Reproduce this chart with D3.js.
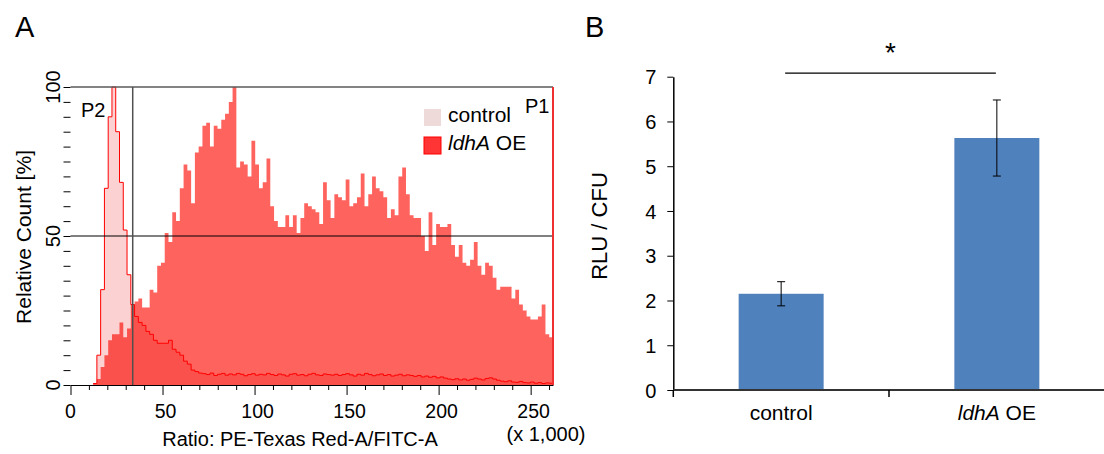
<!DOCTYPE html>
<html><head><meta charset="utf-8">
<script src="https://cdn.jsdelivr.net/npm/d3@7"></script>
<style>
body{margin:0;background:#fff}
svg{display:block}
text{font-family:"Liberation Sans",Arial,Helvetica,sans-serif;fill:#000}
</style>
</head><body>
<svg id="chart" width="1104" height="454"></svg>
<script>
// ---------- Panel A data (128 bins over 0 .. 262.144 x1,000) ----------
const histMax = 262.144;
const controlCounts = [
  0,0,0,0,0,0,0.5,10,32,66,90,100,85,68,52,37,27,23,21,20,18,17,15,14,14,14,15,12,11,10,8,7,5,4.5,4,
  3.8,3.5,4.0,3.2,3.6,3.9,3.3,3.7,3.4,3.9,3.6,3.1,3.5,3.8,3.3,3.6,
  3.4,3.9,3.5,3.2,3.7,3.4,3.0,3.6,3.8,3.3,3.5,3.1,3.6,3.9,3.4,3.2,3.7,3.5,3.3,3.6,
  3.2,3.5,3.8,3.4,3.0,3.6,3.3,3.9,3.5,3.1,3.4,3.7,3.2,3.5,3.0,3.3,3.6,3.1,3.4,3.2,
  2.9,3.2,2.7,3.0,2.6,2.9,2.4,2.7,2.3,2.0,
  1.8,2.1,1.7,2.0,1.6,1.9,2.3,2.0,1.7,2.2,2.4,2.0,1.6,1.3,1.1,1.4,1.0,0.9,1.2,0.8,0.7,1.0,0.6,0.8,0.5,0.7,0.6
];
const ldhaCounts = [
  0,0,0,0,0,0,0.5,2,6,10,15,17,17,21,16,19,27,28,29,26,26,32,31,40,41,51,48,58,55,66,
  74,72,61,78,80,87,88,80,87,86,89,91,95,100,73,75,74,70,82,74,66,68,76,60,55,53,53,57,53,57,
  51,56,61,60,59,58,54,68,62,56,64,63,62,69,60,61,63,71,60,64,70,66,65,63,56,59,57,70,73,64,
  57,56,56,50,45,58,47,54,53,53,54,47,43,47,41,40,42,48,40,37,41,40,36,32,33,33,33,29,32,27,
  25,23,22,22,23,27,17,16
];
const xTickValuesA = [0, 50, 100, 150, 200, 250];
const yTickValuesA = [0, 50, 100];
const gateValue = 33.8;
const seriesNamesA = ["control", "ldhA OE"];

// ---------- Panel B data ----------
const barCategories = ["control", "ldhA OE"];
const barValues = [2.15, 5.63];
const barErrors = [0.27, 0.85];
const yTicksB = [0, 1, 2, 3, 4, 5, 6, 7];
const sigLevel = 7.08;

const svg = d3.select("#chart");

// ================= Panel A =================
const xA = d3.scaleLinear().domain([0, histMax]).range([70.5, 553]);
const yA = d3.scaleLinear().domain([0, 100]).range([385, 87]);
const bw = histMax / ldhaCounts.length;
const toPts = arr => arr.map((c, i) => [i * bw, c]).concat([[histMax, arr[arr.length - 1]]]);
const area = d3.area().x(d => xA(d[0])).y0(yA(0)).y1(d => yA(d[1])).curve(d3.curveStepAfter);
const line = d3.line().x(d => xA(d[0])).y(d => yA(d[1])).curve(d3.curveStepAfter);

const gA = svg.append("g");
gA.append("path").attr("d", area(toPts(ldhaCounts))).attr("fill", "#ff635e");
gA.append("path").attr("d", area(toPts(controlCounts))).attr("fill", "rgba(235,0,0,0.18)");
const ctrlPts = toPts(controlCounts);
const firstIdx = controlCounts.findIndex(v => v > 0);
gA.append("path").attr("d", line(ctrlPts.slice(firstIdx))).attr("fill", "none").attr("stroke", "#ff0000").attr("stroke-width", 1);

// frame lines
gA.append("line").attr("x1", xA(0)).attr("x2", xA(histMax)).attr("y1", yA(100)).attr("y2", yA(100)).attr("stroke", "#5a5a5a").attr("stroke-width", 1.6);
gA.append("line").attr("x1", xA(0)).attr("x2", xA(histMax)).attr("y1", yA(50)).attr("y2", yA(50)).attr("stroke", "#000").attr("stroke-width", 1);
gA.append("line").attr("x1", xA(gateValue)).attr("x2", xA(gateValue)).attr("y1", yA(100)).attr("y2", yA(0)).attr("stroke", "#505050").attr("stroke-width", 1.5);
gA.append("line").attr("x1", xA(histMax)).attr("x2", xA(histMax)).attr("y1", yA(100)).attr("y2", yA(0)).attr("stroke", "#ee3030").attr("stroke-width", 2);

// x axis
const xAxisA = d3.axisBottom(xA).tickValues(d3.range(0, 261, 10)).tickSize(5).tickFormat("").tickSizeOuter(0);
const gxA = gA.append("g").attr("transform", `translate(0,${yA(0)})`).call(xAxisA);
gxA.select(".domain").attr("stroke", "#000").attr("stroke-width", 1.2);
gxA.selectAll(".tick line").attr("stroke", "#000").attr("y2", d => d % 50 === 0 ? 10 : 5);
gA.selectAll(".xlabA").data(xTickValuesA).join("text")
  .attr("x", d => xA(d) + (d === 0 ? 0 : 3)).attr("y", 418).attr("text-anchor", "middle")
  .style("font-size", "19.5px").text(d => d);
gA.append("text").attr("x", 546).attr("y", 441).attr("text-anchor", "middle").style("font-size", "20px").text("(x 1,000)");
gA.append("text").attr("x", 300).attr("y", 446).attr("text-anchor", "middle").style("font-size", "20px").text("Ratio: PE-Texas Red-A/FITC-A");

// y axis
const yAxisA = d3.axisLeft(yA).tickValues(d3.range(0, 101, 5)).tickSize(7).tickFormat("").tickSizeOuter(0);
const gyA = gA.append("g").attr("transform", `translate(${xA(0)},0)`).call(yAxisA);
gyA.select(".domain").remove();
gyA.selectAll(".tick line").attr("stroke", "#000");
gA.selectAll(".ylabA").data(yTickValuesA).join("text")
  .attr("transform", d => `translate(60,${yA(d)}) rotate(-90)`).attr("text-anchor", "middle")
  .style("font-size", "20px").text(d => d);
gA.append("text").attr("transform", "translate(31,237) rotate(-90)").attr("text-anchor", "middle")
  .style("font-size", "21px").text("Relative Count [%]");

// gate labels
gA.append("text").attr("x", 81).attr("y", 117).style("font-size", "20px").text("P2");
gA.append("text").attr("x", 525).attr("y", 113).style("font-size", "20px").text("P1");

// legend
const legColors = ["#efdada", "#ff3535"];
const legStroke = ["none", "#ff0000"];
const leg = gA.append("g");
seriesNamesA.forEach((name, i) => {
  const yy = 109 + i * 28;
  leg.append("rect").attr("x", 424).attr("y", yy).attr("width", 17).attr("height", 17)
    .attr("fill", legColors[i]).attr("stroke", legStroke[i]).attr("stroke-width", 1);
  const t = leg.append("text").attr("x", 448).attr("y", yy + 13).style("font-size", "21px");
  if (name.startsWith("ldhA")) {
    t.append("tspan").style("font-style", "italic").text("ldhA");
    t.append("tspan").text(name.slice(4));
  } else t.text(name);
});

// panel letters
svg.append("text").attr("x", 15).attr("y", 37).style("font-size", "29px").text("A");
svg.append("text").attr("x", 585).attr("y", 37).style("font-size", "29px").text("B");

// ================= Panel B =================
const xB = d3.scaleBand().domain(barCategories).range([673.3, 1104.7]).paddingInner(0.606).paddingOuter(0.303);
const yB = d3.scaleLinear().domain([0, 7]).range([390, 76.7]);
const gB = svg.append("g");

gB.selectAll(".bar").data(barCategories).join("rect")
  .attr("x", d => xB(d)).attr("width", xB.bandwidth())
  .attr("y", (d, i) => yB(barValues[i])).attr("height", (d, i) => yB(0) - yB(barValues[i]))
  .attr("fill", "#4f81bd");

// error bars
barCategories.forEach((c, i) => {
  const cx = xB(c) + xB.bandwidth() / 2;
  const top = yB(barValues[i] + barErrors[i]), bot = yB(barValues[i] - barErrors[i]);
  gB.append("line").attr("x1", cx).attr("x2", cx).attr("y1", top).attr("y2", bot).attr("stroke", "#000").attr("stroke-width", 1);
  [top, bot].forEach(yy => gB.append("line").attr("x1", cx - 4).attr("x2", cx + 4).attr("y1", yy).attr("y2", yy).attr("stroke", "#000").attr("stroke-width", 1));
});

// y axis B
const yAxisB = d3.axisLeft(yB).tickValues(yTicksB).tickSize(6).tickPadding(11).tickSizeOuter(0).tickFormat(d3.format("d"));
const gyB = gB.append("g").attr("transform", `translate(673.3,0)`).call(yAxisB);
gyB.select(".domain").attr("stroke", "#000").attr("stroke-width", 1.5);
gyB.selectAll(".tick line").attr("stroke", "#000");
gyB.selectAll(".tick text").style("font-size", "20px").attr("font-family", null).attr("dy", "0.36em");

// x axis B
const step = xB.step();
gB.append("line").attr("x1", 673.3).attr("x2", 1104).attr("y1", yB(0)).attr("y2", yB(0)).attr("stroke", "#333").attr("stroke-width", 2);
gB.selectAll(".xtB").data(barCategories).join("line")
  .attr("x1", d => xB(d) + xB.bandwidth() / 2 - step / 2).attr("x2", d => xB(d) + xB.bandwidth() / 2 - step / 2)
  .attr("y1", yB(0)).attr("y2", yB(0) + 7).attr("stroke", "#000").attr("stroke-width", 1.5);
barCategories.forEach((c, i) => {
  const t = gB.append("text").attr("x", xB(c) + xB.bandwidth() / 2).attr("y", 420).attr("text-anchor", "middle").style("font-size", "21px");
  if (c.startsWith("ldhA")) {
    t.append("tspan").style("font-style", "italic").text("ldhA");
    t.append("tspan").text(c.slice(4));
  } else t.text(c);
});

gB.append("text").attr("transform", "translate(607,226) rotate(-90)").attr("text-anchor", "middle")
  .style("font-size", "22px").text("RLU / CFU");

// significance
const c0 = xB(barCategories[0]) + xB.bandwidth() / 2 + 4;
const c1 = xB(barCategories[1]) + xB.bandwidth() / 2 - 1;
gB.append("line").attr("x1", c0).attr("x2", c1).attr("y1", yB(sigLevel)).attr("y2", yB(sigLevel)).attr("stroke", "#000").attr("stroke-width", 1.3);
gB.append("text").attr("x", (c0 + c1) / 2).attr("y", 62).attr("text-anchor", "middle").style("font-size", "28px").text("*");
</script>
</body></html>
